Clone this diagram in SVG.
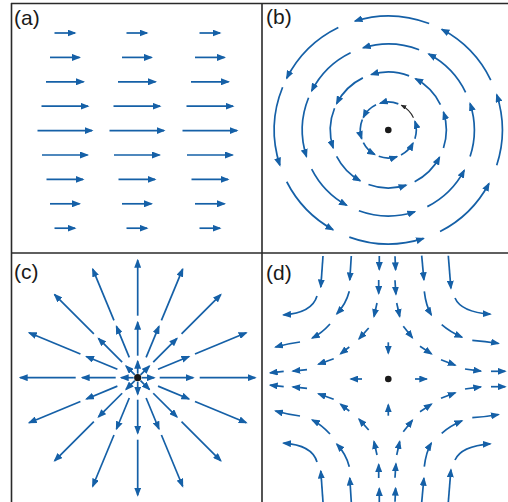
<svg xmlns="http://www.w3.org/2000/svg" xmlns:xlink="http://www.w3.org/1999/xlink" width="508" height="502" viewBox="0 0 508 502">
<style>
.v{fill:none;stroke:#1560a7;stroke-width:1.7;marker-end:url(#ah)}
.k{fill:none;stroke:#2a2a2a;stroke-width:1.1;marker-end:url(#ahk)}
.frame{stroke:#2a2a2a;stroke-width:1.6;fill:none}
.lbl{font-family:"Liberation Sans",Arial,Helvetica,sans-serif;font-size:21px;fill:#1a1a1a}
.dot{fill:#1a1a1a}
</style>
<defs>
<marker id="ah" markerUnits="userSpaceOnUse" viewBox="0 0 9 7" markerWidth="9" markerHeight="7" refX="7.5" refY="3.5" orient="auto">
<path d="M0,0 L9,3.5 L0,7 Z" fill="#1560a7"/>
</marker>
<marker id="ahk" markerUnits="userSpaceOnUse" viewBox="0 0 8 6" markerWidth="6" markerHeight="4.5" refX="6.5" refY="3" orient="auto">
<path d="M0,0 L8,3 L0,6 Z" fill="#2a2a2a"/>
</marker>
<g id="rayA">
<line class="v" x1="4" y1="0" x2="16.5" y2="0"/>
<line class="v" x1="22" y1="0" x2="55.5" y2="0"/>
<line class="v" x1="62" y1="0" x2="117.5" y2="0"/>
</g>
<g id="rayB">
<line class="v" x1="22" y1="0" x2="55.5" y2="0"/>
<line class="v" x1="62" y1="0" x2="117.5" y2="0"/>
</g>
<g id="dTop">
<path class="v" d="M323,256 L320.8,287"/>
<path class="v" d="M317,296 Q312,313 283.5,314.8"/>
<path class="v" d="M351.3,256 L349.8,280"/>
<path class="v" d="M349.3,291.3 Q346,304 336.8,313.8"/>
<path class="v" d="M330,324 Q322,333 312.2,338.1"/>
<path class="v" d="M300,342 Q288,343.5 275.5,347"/>
<path class="v" d="M379.3,256 L379.3,269.5"/>
<path class="v" d="M378.7,280 L378.7,293.5"/>
<path class="v" d="M377,303 L374,316.5"/>
<path class="v" d="M368.7,328 L359,338.9"/>
<path class="v" d="M349.3,347 L340.5,353.8"/>
<path class="v" d="M333.7,358.7 L318.4,364.2"/>
<path class="v" d="M307,369.7 L292.8,371.1"/>
<path class="v" d="M283.7,371.3 L270.2,372.8"/>
<path class="v" d="M388.3,342.3 L388.3,353.2"/>
<path class="v" d="M448.3,255.7 L450.9,288.2"/>
<path class="v" d="M455,298 Q461,312 490.3,314.2"/>
<path class="v" d="M421.7,255.7 L423.9,279.8"/>
<path class="v" d="M424.3,291.3 Q426,306 431.3,314.9"/>
<path class="v" d="M441.7,324.7 Q450,332 462,337.2"/>
<path class="v" d="M472.3,340.3 Q485,341 498.5,343.5"/>
<path class="v" d="M395,256.3 L395.6,269.8"/>
<path class="v" d="M395,280.3 L395.9,294.2"/>
<path class="v" d="M396.7,303 L399.7,316.5"/>
<path class="v" d="M403.3,326.3 L412.4,337.8"/>
<path class="v" d="M420,346.3 L431.5,353.9"/>
<path class="v" d="M441,359.7 L455.3,365.2"/>
<path class="v" d="M465,369 L480.8,371.1"/>
<path class="v" d="M491,371.3 L505.2,371.3"/>
</g>
</defs>
<rect x="0" y="0" width="508" height="502" fill="#ffffff"/>

<g id="frame">
<line class="frame" x1="11" y1="3.5" x2="508" y2="3.5" stroke-width="2"/>
<line class="frame" x1="11.5" y1="3" x2="11.5" y2="502"/>
<line class="frame" x1="262" y1="3" x2="262" y2="502" stroke="#666" stroke-width="1.8"/>
<line class="frame" x1="11" y1="253" x2="508" y2="253"/>
</g>

<g id="panel-a">
<text class="lbl" x="14" y="25">(a)</text>
<g id="a-arrows">
<line class="v" x1="54.5" y1="33" x2="75" y2="33"/><line class="v" x1="126.5" y1="33" x2="147" y2="33"/><line class="v" x1="199.5" y1="33" x2="220" y2="33"/>
<line class="v" x1="50" y1="57.4" x2="79.5" y2="57.4"/><line class="v" x1="122" y1="57.4" x2="151.5" y2="57.4"/><line class="v" x1="195" y1="57.4" x2="224.5" y2="57.4"/>
<line class="v" x1="46" y1="81.8" x2="83.5" y2="81.8"/><line class="v" x1="118" y1="81.8" x2="155.5" y2="81.8"/><line class="v" x1="191" y1="81.8" x2="228.5" y2="81.8"/>
<line class="v" x1="41.5" y1="106.2" x2="88" y2="106.2"/><line class="v" x1="113.5" y1="106.2" x2="160" y2="106.2"/><line class="v" x1="186.5" y1="106.2" x2="233" y2="106.2"/>
<line class="v" x1="37.5" y1="130.6" x2="92" y2="130.6"/><line class="v" x1="109.5" y1="130.6" x2="164" y2="130.6"/><line class="v" x1="182.5" y1="130.6" x2="237" y2="130.6"/>
<line class="v" x1="42" y1="155" x2="87.5" y2="155"/><line class="v" x1="114" y1="155" x2="159.5" y2="155"/><line class="v" x1="187" y1="155" x2="232.5" y2="155"/>
<line class="v" x1="46.5" y1="179.4" x2="83" y2="179.4"/><line class="v" x1="118.5" y1="179.4" x2="155" y2="179.4"/><line class="v" x1="191.5" y1="179.4" x2="228" y2="179.4"/>
<line class="v" x1="50" y1="203.8" x2="79.5" y2="203.8"/><line class="v" x1="122" y1="203.8" x2="151.5" y2="203.8"/><line class="v" x1="195" y1="203.8" x2="224.5" y2="203.8"/>
<line class="v" x1="54.5" y1="228.2" x2="75" y2="228.2"/><line class="v" x1="126.5" y1="228.2" x2="147" y2="228.2"/><line class="v" x1="199.5" y1="228.2" x2="220" y2="228.2"/>
</g>
</g>

<g id="panel-b">
<text class="lbl" x="266" y="24">(b)</text>
<g id="b-arrows">
<path class="v" d="M490.76,80.02 A114,114 0 0 0 441.82,29.35"/>
<path class="v" d="M429.16,23.57 A114,114 0 0 0 354.97,20.98"/>
<path class="v" d="M338.32,27.54 A114,114 0 0 0 286.73,78.24"/>
<path class="v" d="M282.60,87.30 A114,114 0 0 0 279.87,165.23"/>
<path class="v" d="M286.73,181.76 A114,114 0 0 0 333.03,229.70"/>
<path class="v" d="M349.31,237.13 A114,114 0 0 0 423.53,238.43"/>
<path class="v" d="M440.06,231.57 A114,114 0 0 0 488.95,183.52"/>
<path class="v" d="M496.73,165.23 A114,114 0 0 0 496.73,94.77"/>

<path class="v" d="M465.60,92.30 A86,86 0 0 0 428.68,54.07"/>
<path class="v" d="M419.12,49.71 A86,86 0 0 0 363.15,47.76"/>
<path class="v" d="M350.60,52.70 A86,86 0 0 0 311.67,90.96"/>
<path class="v" d="M308.56,97.78 A86,86 0 0 0 306.51,156.57"/>
<path class="v" d="M311.67,169.04 A86,86 0 0 0 346.61,205.22"/>
<path class="v" d="M358.89,210.81 A86,86 0 0 0 414.87,211.79"/>
<path class="v" d="M427.34,206.63 A86,86 0 0 0 464.23,170.38"/>
<path class="v" d="M470.09,156.57 A86,86 0 0 0 470.09,103.43"/>

<path class="v" d="M440.43,104.57 A58,58 0 0 0 415.53,78.79"/>
<path class="v" d="M409.09,75.85 A58,58 0 0 0 371.34,74.53"/>
<path class="v" d="M362.87,77.87 A58,58 0 0 0 336.62,103.67"/>
<path class="v" d="M334.52,108.27 A58,58 0 0 0 333.14,147.92"/>
<path class="v" d="M336.62,156.33 A58,58 0 0 0 360.18,180.73"/>
<path class="v" d="M368.46,184.50 A58,58 0 0 0 406.22,185.16"/>
<path class="v" d="M414.63,181.68 A58,58 0 0 0 439.51,157.23"/>
<path class="v" d="M443.46,147.92 A58,58 0 0 0 443.46,112.08"/>

<path class="k" d="M413.47,117.72 A28,28 0 0 0 401.45,105.28"/>
<path class="v" d="M398.34,103.86 A28,28 0 0 0 380.11,103.22"/>
<path class="v" d="M376.02,104.83 A28,28 0 0 0 363.35,117.29"/>
<path class="v" d="M362.34,119.51 A28,28 0 0 0 361.67,138.65"/>
<path class="v" d="M363.35,142.71 A28,28 0 0 0 374.73,154.49"/>
<path class="v" d="M378.72,156.31 A28,28 0 0 0 396.95,156.63"/>
<path class="v" d="M401.01,154.95 A28,28 0 0 0 413.02,143.15"/>
<path class="v" d="M414.93,138.65 A28,28 0 0 0 414.93,121.35"/>
</g>
<circle class="dot" cx="388.3" cy="130" r="3.3"/>
</g>

<g id="panel-c">
<text class="lbl" x="14" y="279">(c)</text>
<g id="c-arrows" transform="translate(137.7,377.7)">
<use xlink:href="#rayA" href="#rayA"/>
<use xlink:href="#rayB" href="#rayB" transform="rotate(-22.5)"/>
<use xlink:href="#rayA" href="#rayA" transform="rotate(-45)"/>
<use xlink:href="#rayB" href="#rayB" transform="rotate(-67.5)"/>
<use xlink:href="#rayA" href="#rayA" transform="rotate(-90)"/>
<use xlink:href="#rayB" href="#rayB" transform="rotate(-112.5)"/>
<use xlink:href="#rayA" href="#rayA" transform="rotate(-135)"/>
<use xlink:href="#rayB" href="#rayB" transform="rotate(-157.5)"/>
<use xlink:href="#rayA" href="#rayA" transform="rotate(-180)"/>
<use xlink:href="#rayB" href="#rayB" transform="rotate(-202.5)"/>
<use xlink:href="#rayA" href="#rayA" transform="rotate(-225)"/>
<use xlink:href="#rayB" href="#rayB" transform="rotate(-247.5)"/>
<use xlink:href="#rayA" href="#rayA" transform="rotate(-270)"/>
<use xlink:href="#rayB" href="#rayB" transform="rotate(-292.5)"/>
<use xlink:href="#rayA" href="#rayA" transform="rotate(-315)"/>
<use xlink:href="#rayB" href="#rayB" transform="rotate(-337.5)"/>
<circle class="dot" cx="0" cy="0" r="3.6"/>
</g>
</g>

<g id="panel-d">
<text class="lbl" x="266" y="280">(d)</text>
<g id="d-arrows">
<use xlink:href="#dTop" href="#dTop"/>
<use xlink:href="#dTop" href="#dTop" transform="matrix(1 0 0 -1 0 758)"/>
<path class="v" d="M362,379 L350.8,379"/>
<path class="v" d="M415,379 L426.8,379"/>
</g>
<circle class="dot" cx="388.3" cy="379" r="3.3"/>
</g>
</svg>
